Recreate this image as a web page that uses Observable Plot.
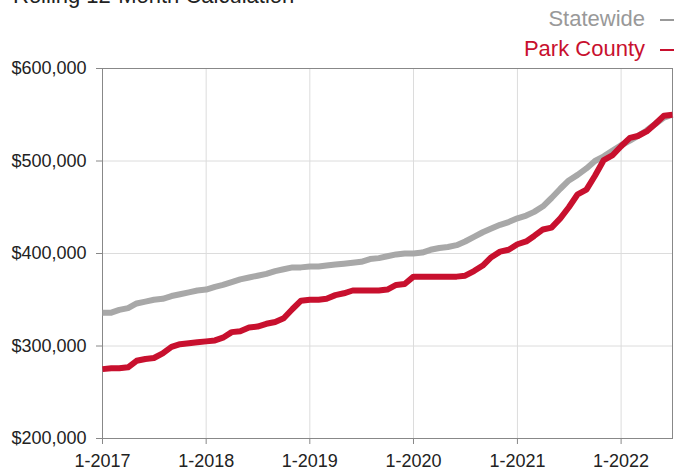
<!DOCTYPE html>
<html>
<head>
<meta charset="utf-8">
<script src="https://cdn.jsdelivr.net/npm/d3@7"></script>
<script src="https://cdn.jsdelivr.net/npm/@observablehq/plot@0.6"></script>
<style>
  html, body { margin: 0; padding: 0; background: #fff; }
  #wrap { position: relative; width: 674px; height: 470px; overflow: hidden; font-family: "Liberation Sans", Arial, Helvetica, sans-serif; }
  #chart { position: absolute; left: 0; top: 0; }
  .title { position: absolute; left: 13px; top: -15px; font-size: 22px; line-height: 22px; color: #222; white-space: nowrap; }
  .leg { position: absolute; right: 29px; font-size: 22px; line-height: 22px; white-space: nowrap; text-align: right; }
  .dash { position: absolute; left: 660px; width: 14px; height: 2px; }
</style>
</head>
<body>
<div id="wrap">
  <div id="chart"></div>
  <div class="title">Rolling 12-Month Calculation</div>
  <div class="leg" id="leg0" style="top:8px;color:#999999;">Statewide</div>
  <div class="dash" style="top:19px;background:#999999;"></div>
  <div class="leg" id="leg1" style="top:38px;color:#c8102e;">Park County</div>
  <div class="dash" style="top:49px;background:#c8102e;"></div>
</div>
<script>
// Monthly values, Jan 2017 .. Jul 2022 (in thousands of dollars)
const seriesNames = ["Statewide", "Park County"];
const seriesColors = ["#a8a8a8", "#c8102e"];
const statewide = [
  336, 336, 339, 341, 346, 348, 350, 351, 354, 356, 358, 360,
  361, 364, 366, 369, 372, 374, 376, 378, 381, 383, 385, 385,
  386, 386, 387, 388, 389, 390, 391, 394, 395, 397, 399, 400,
  400, 401, 404, 406, 407, 409, 413, 418, 423, 427, 431, 434,
  438, 441, 445, 451, 460, 470, 479, 485, 492, 500, 505, 511,
  517, 522, 527, 533, 540, 547, 550
];
const parkCounty = [
  275, 276, 276, 277, 284, 286, 287, 292, 299, 302, 303, 304,
  305, 306, 309, 315, 316, 320, 321, 324, 326, 330, 340, 349,
  350, 350, 351, 355, 357, 360, 360, 360, 360, 361, 366, 367,
  375, 375, 375, 375, 375, 375, 376, 381, 387, 396, 402, 404,
  410, 413, 419, 426, 428, 438, 450, 464, 469, 484, 501, 506,
  516, 525, 527, 532, 540, 549, 550
];
const startMonth = [2017, 0];
const xTickYears = [2017, 2018, 2019, 2020, 2021, 2022];
const yTicks = [200000, 300000, 400000, 500000, 600000];
const yDomain = [200000, 600000];

const monthDate = i => new Date(Date.UTC(startMonth[0], startMonth[1] + i, 1));
const data = [];
[statewide, parkCounty].forEach((arr, s) => {
  arr.forEach((v, i) => data.push({series: seriesNames[s], date: monthDate(i), value: v * 1000}));
});
const xTicks = xTickYears.map(y => new Date(Date.UTC(y, 0, 1)));
const xDomain = [monthDate(0), monthDate(statewide.length - 1)];

const plot = Plot.plot({
  width: 674,
  height: 470,
  marginLeft: 102,
  marginRight: 2,
  marginTop: 68,
  marginBottom: 32,
  style: {fontFamily: '"Liberation Sans", Arial, Helvetica, sans-serif', fontSize: "18px", color: "#222", background: "#fff", overflow: "visible"},
  x: {type: "utc", domain: xDomain},
  y: {domain: yDomain},
  color: {domain: seriesNames, range: seriesColors},
  marks: [
    Plot.gridY(yTicks, {stroke: "#dcdcdc", strokeOpacity: 1, strokeWidth: 1}),
    Plot.gridX(xTicks, {stroke: "#dcdcdc", strokeOpacity: 1, strokeWidth: 1}),
    Plot.frame({stroke: "#888"}),
    Plot.axisY(yTicks, {
      tickSize: 6, tickPadding: 10, stroke: "#888", fill: "#222", fontSize: 18,
      tickFormat: d => "$" + d3.format(",")(d), label: null
    }),
    Plot.axisX(xTicks, {
      tickSize: 6, tickPadding: 10, stroke: "#888", fill: "#222", fontSize: 18,
      tickFormat: d => `${d.getUTCMonth() + 1}-${d.getUTCFullYear()}`, label: null
    }),
    Plot.line(data, {x: "date", y: "value", z: "series", stroke: "series", strokeWidth: 6, strokeLinejoin: "round", strokeLinecap: "butt"})
  ]
});
document.getElementById("chart").appendChild(plot);
</script>
</body>
</html>
